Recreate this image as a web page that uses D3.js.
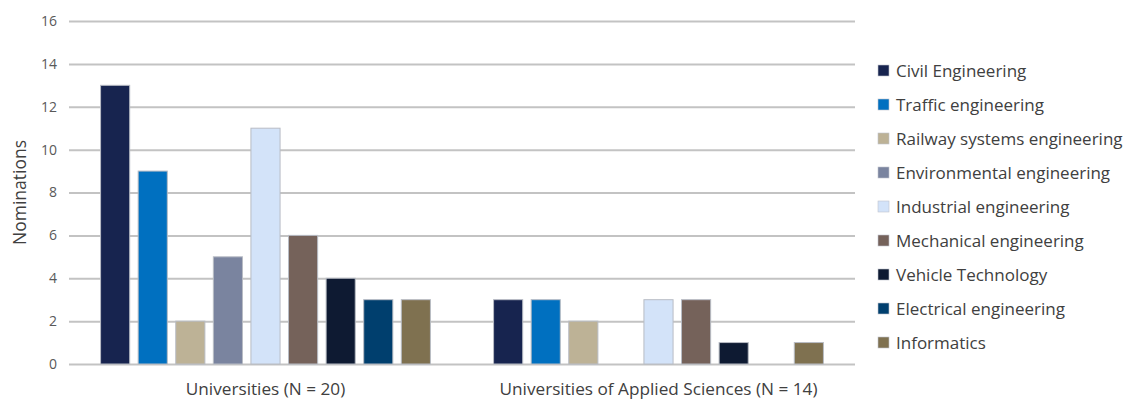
<!DOCTYPE html>
<html>
<head>
<meta charset="utf-8">
<script src="https://cdn.jsdelivr.net/npm/d3@7"></script>
<style>
  body { margin: 0; background: #fff; }
  svg { display: block; font-family: "Open Sans", "Noto Sans", sans-serif; }
  svg text { font-family: "Open Sans", "Noto Sans", sans-serif; }
</style>
</head>
<body>
<svg id="chart" width="1132" height="403"></svg>
<script>
const groups = ["Universities (N = 20)", "Universities of Applied Sciences (N = 14)"];
const fields = [
  "Civil Engineering",
  "Traffic engineering",
  "Railway systems engineering",
  "Environmental engineering",
  "Industrial engineering",
  "Mechanical engineering",
  "Vehicle Technology",
  "Electrical engineering",
  "Informatics",
];
const universities = [13, 9, 2, 5, 11, 6, 4, 3, 3];
const appliedSciences = [3, 3, 2, 0, 3, 3, 1, 0, 1];
const colors = ["#17244f", "#0070c0", "#bdb296", "#7a849f", "#d3e3f9", "#75625a", "#0e1a32", "#003f6e", "#7f7150"];
const yTicks = [0, 2, 4, 6, 8, 10, 12, 14, 16];

const series = [universities, appliedSciences];

const svg = d3.select("#chart");
const margin = { top: 21, right: 277, bottom: 39, left: 69 };
const width = 1132, height = 403;

const x0 = d3.scaleBand()
  .domain(groups)
  .range([margin.left, width - margin.right]);

const x1 = d3.scaleBand()
  .domain(fields)
  .range([0, x0.bandwidth()])
  .paddingInner(0.225)
  .paddingOuter(0.84);

const y = d3.scaleLinear()
  .domain([0, 16])
  .range([height - margin.bottom, margin.top]);

const color = d3.scaleOrdinal().domain(fields).range(colors);

// gridlines + tick labels
svg.append("g")
  .attr("transform", `translate(${margin.left},0)`)
  .call(d3.axisLeft(y).tickValues(yTicks).tickSize(-(width - margin.left - margin.right)).tickPadding(12))
  .call(g => g.select(".domain").remove())
  .call(g => g.selectAll(".tick line").attr("stroke", "#c3c3c3").attr("stroke-width", 2))
  .call(g => g.selectAll(".tick text").attr("fill", "#595959").attr("font-size", 14));

svg.append("text")
  .attr("transform", `translate(19,${(y(0) + y(16)) / 2}) rotate(-90)`)
  .attr("text-anchor", "middle")
  .attr("dominant-baseline", "central")
  .attr("fill", "#404040")
  .attr("font-size", 17.5)
  .text("Nominations");

// bars
const g = svg.append("g")
  .selectAll("g")
  .data(groups)
  .join("g")
  .attr("transform", d => `translate(${x0(d)},0)`);

g.selectAll("rect")
  .data((d, i) => fields.map((f, j) => ({ field: f, value: series[i][j] })).filter(d => d.value > 0))
  .join("rect")
  .attr("x", d => x1(d.field))
  .attr("y", d => y(d.value))
  .attr("width", x1.bandwidth())
  .attr("height", d => y(0) - y(d.value))
  .attr("fill", d => color(d.field))
  .attr("stroke", "#b8bcc4")
  .attr("stroke-width", 1);

// category labels
svg.append("g")
  .attr("transform", `translate(0,${y(0)})`)
  .call(d3.axisBottom(x0).tickSize(0).tickPadding(19))
  .call(g => g.select(".domain").remove())
  .call(g => g.selectAll(".tick text").attr("fill", "#404040").attr("font-size", 17.2));

// legend
const legend = svg.append("g")
  .selectAll("g")
  .data(fields)
  .join("g")
  .attr("transform", (d, i) => `translate(878,${71 + i * 34})`);

legend.append("rect")
  .attr("x", 0)
  .attr("y", -6)
  .attr("width", 11)
  .attr("height", 11)
  .attr("fill", d => color(d))
  .attr("stroke", "#c0c4cc")
  .attr("stroke-width", 0.6);

legend.append("text")
  .attr("x", 18)
  .attr("y", -1)
  .attr("dominant-baseline", "central")
  .attr("fill", "#404040")
  .attr("font-size", 17)
  .text(d => d);
</script>
</body>
</html>
